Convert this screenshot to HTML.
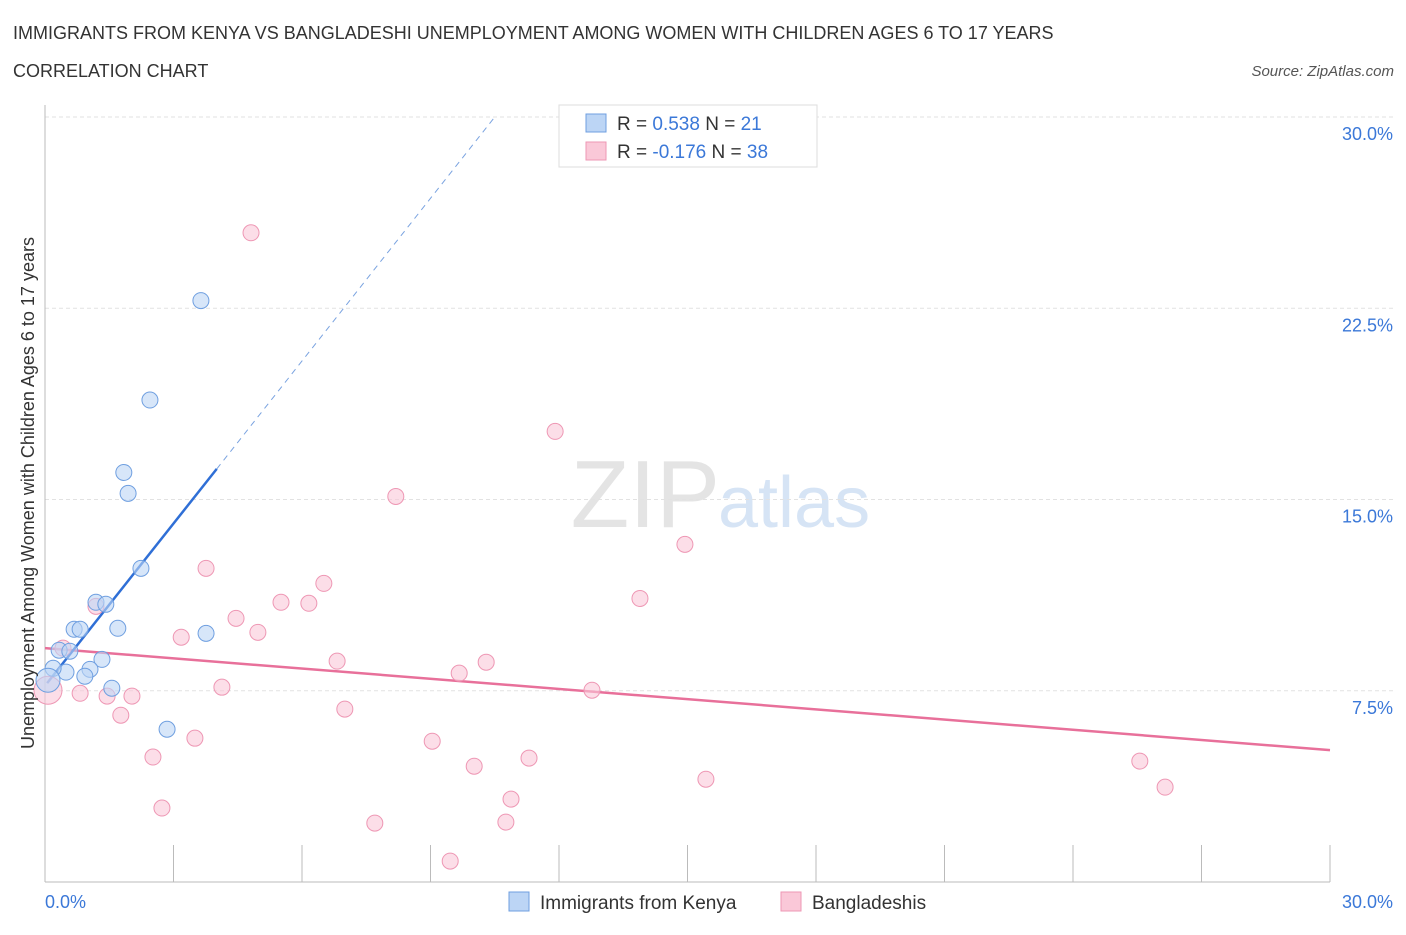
<!DOCTYPE html>
<html><head><meta charset="utf-8"><style>
body{margin:0;background:#fff;font-family:"Liberation Sans",sans-serif;}
svg text{font-family:"Liberation Sans",sans-serif;}
</style></head><body>
<svg id="chart" width="1406" height="930" xmlns="http://www.w3.org/2000/svg">
<text x="13" y="39" font-size="18" fill="#333">IMMIGRANTS FROM KENYA VS BANGLADESHI UNEMPLOYMENT AMONG WOMEN WITH CHILDREN AGES 6 TO 17 YEARS</text>
<text x="13" y="77" font-size="18" fill="#333">CORRELATION CHART</text>
<text x="1394" y="76" font-size="15" fill="#555" font-style="italic" text-anchor="end">Source: ZipAtlas.com</text>
<text x="720" y="527" font-size="96" fill="#e4e4e4" text-anchor="end" font-family="Liberation Serif">ZIP</text>
<text x="718" y="527" font-size="72" fill="#d6e4f5">atlas</text>
<g id="grid"></g><g id="axes"></g><g id="lines"></g><g id="points"></g>
<text transform="translate(34,493) rotate(-90)" font-size="18" fill="#333" text-anchor="middle">Unemployment Among Women with Children Ages 6 to 17 years</text>
<g>
<rect x="559" y="105" width="258" height="62" fill="#fff" stroke="#ddd"/>
<rect x="586" y="114" width="20" height="18" fill="#bcd5f5" stroke="#6f9fe0"/>
<rect x="586" y="142" width="20" height="18" fill="#fac8d8" stroke="#ee97b4"/>
<text x="617" y="130" font-size="19" fill="#333">R = <tspan fill="#3b78d8">0.538</tspan>    N = <tspan fill="#3b78d8">21</tspan></text>
<text x="617" y="158" font-size="19" fill="#333">R = <tspan fill="#3b78d8">-0.176</tspan>    N = <tspan fill="#3b78d8">38</tspan></text>
</g>
<g>
<rect x="509" y="892" width="20" height="19" fill="#bcd5f5" stroke="#6f9fe0"/>
<text x="540" y="909" font-size="19" fill="#333">Immigrants from Kenya</text>
<rect x="781" y="892" width="20" height="19" fill="#fac8d8" stroke="#ee97b4"/>
<text x="812" y="909" font-size="19" fill="#333">Bangladeshis</text>
</g>
</svg>
<script>
const yTicks=[7.5,15,22.5,30];
const yTickLabels=["7.5%","15.0%","22.5%","30.0%"];
const xTicks=[0,3,6,9,12,15,18,21,24,27,30];
const kenyaX=[3.64,2.45,1.84,1.94,2.24,1.19,1.42,1.70,3.76,0.68,0.82,0.33,0.58,1.33,1.05,0.49,0.93,0.19,1.56,2.85,0.07];
const kenyaY=[22.8,18.9,16.06,15.24,12.3,10.97,10.89,9.95,9.75,9.91,9.91,9.09,9.05,8.73,8.34,8.23,8.07,8.38,7.6,5.99,7.91];
const banglaX=[4.81,11.91,8.19,14.94,3.76,6.51,5.51,6.16,13.89,4.46,4.97,3.18,1.19,0.42,6.82,9.67,10.30,4.13,0.82,1.45,2.03,0.07,12.77,1.77,7.0,3.5,9.04,2.52,10.02,11.3,15.43,25.56,26.15,2.73,10.88,7.70,10.76,9.46];
const banglaY=[25.46,17.67,15.12,13.24,12.3,11.71,10.97,10.93,11.12,10.34,9.79,9.6,10.81,9.17,8.66,8.19,8.62,7.64,7.4,7.29,7.29,7.52,7.52,6.54,6.78,5.64,5.52,4.9,4.54,4.86,4.03,4.74,3.72,2.9,3.25,2.31,2.35,0.82];
const kenyaTrend=[[0.05,7.8],[4.01,16.2]];
const kenyaTrendExt=[[4.01,16.2],[10.5,30]];
const banglaTrend=[[0,9.17],[30,5.17]];
const NS="http://www.w3.org/2000/svg";
const sx=v=>45+v/30*1285, sy=v=>882-v/30*765;
function mk(tag,attrs,parent){const e=document.createElementNS(NS,tag);for(const k in attrs)e.setAttribute(k,attrs[k]);document.getElementById(parent).appendChild(e);return e;}
yTicks.forEach((t,i)=>{
 const l=mk('line',{x1:45,x2:1395,y1:sy(t),y2:sy(t),stroke:'#e2e2e2','stroke-dasharray':'4,3'},'grid');
 
 
 const tx=mk('text',{x:1393,y:sy(t)+23,'font-size':18,fill:'#3b78d8','text-anchor':'end'},'grid');
 tx.textContent=yTickLabels[i];
 
 
});
const ax=mk('line',{x1:45,x2:45,y1:105,y2:882,stroke:'#bbb'},'axes');


const bx=mk('line',{x1:45,x2:1330,y1:882,y2:882,stroke:'#bbb'},'axes');


xTicks.forEach(t=>{
 const l=mk('line',{x1:sx(t),x2:sx(t),y1:845,y2:882,stroke:'#bbb'},'axes');
 
 
});
const xl0=mk('text',{x:45,y:908,'font-size':18,fill:'#3b78d8'},'axes');xl0.textContent='0.0%';


const xl1=mk('text',{x:1393,y:908,'font-size':18,fill:'#3b78d8','text-anchor':'end'},'axes');xl1.textContent='30.0%';


function dot(x,y,fill,stroke,r){const c=mk('circle',{cx:sx(x),cy:sy(y),r:r,fill:fill,stroke:stroke,'stroke-width':1,'fill-opacity':0.6},'points');return c;}
banglaX.forEach((x,i)=>{const c=dot(x,banglaY[i],'#fac8d8','#ee97b4',i===21?14:8);
 
 });
kenyaX.forEach((x,i)=>{const c=dot(x,kenyaY[i],'#bcd5f5','#6f9fe0',i===20?12:8);
 
 });
function line(p,stroke,w,dash,name){const l=mk('line',{x1:sx(p[0][0]),y1:sy(p[0][1]),x2:sx(p[1][0]),y2:sy(p[1][1]),stroke:stroke,'stroke-width':w},'lines');if(dash)l.setAttribute('stroke-dasharray',dash);
 
 }
line(banglaTrend,'#e8709a',2.5,null,'bangladeshi-trendline');
line(kenyaTrend,'#2f6fd6',2.5,null,'kenya-trendline');
line(kenyaTrendExt,'#7aa3e0',1,'6,5','kenya-trendline-extension');
</script>
</body></html>
